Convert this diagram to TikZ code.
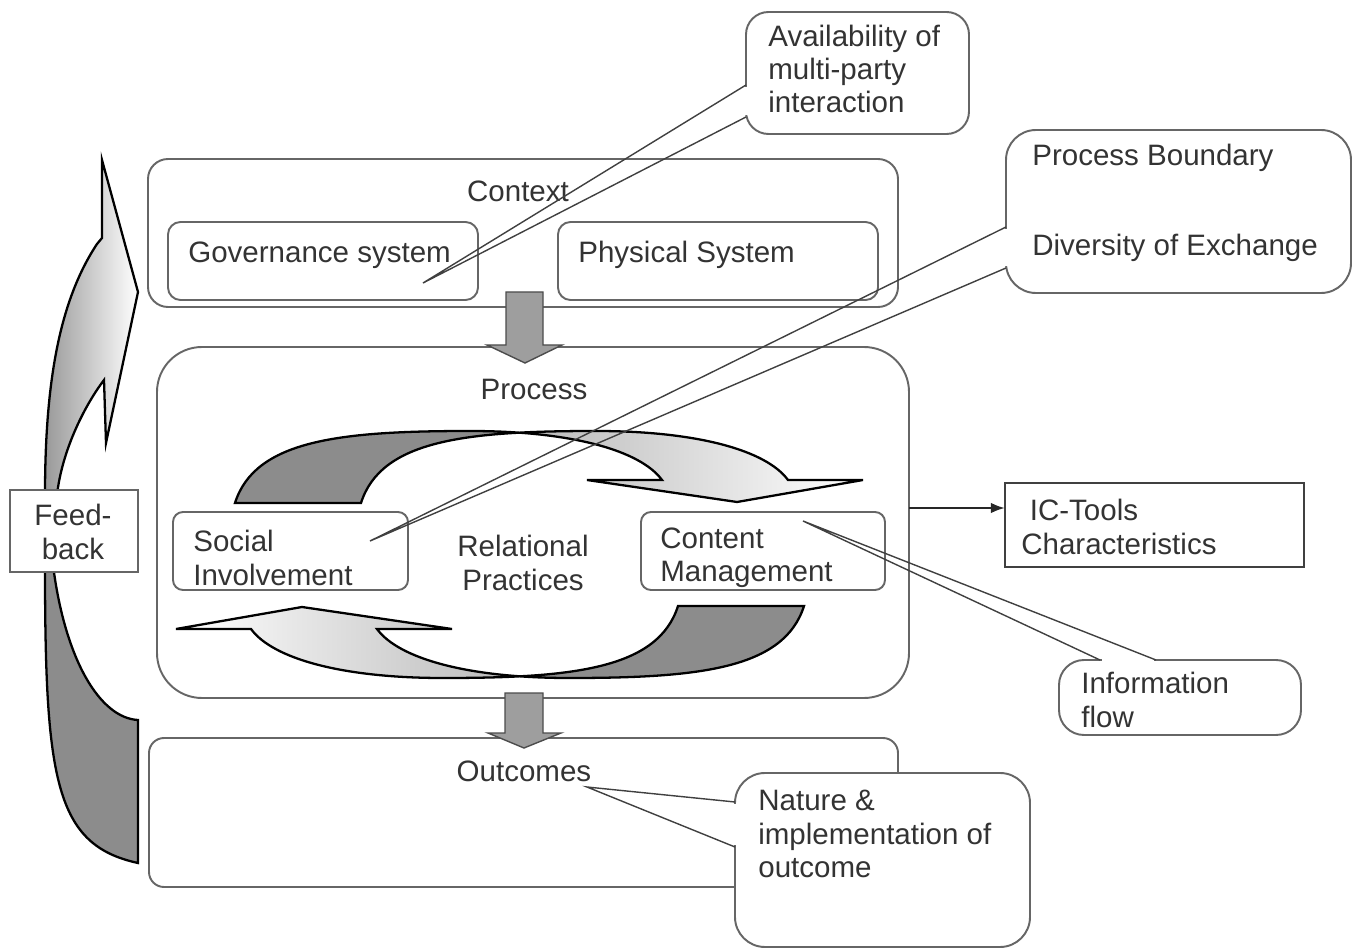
\documentclass[tikz,border=0pt]{standalone}
\usepackage{fontspec}
\setmainfont{Liberation Sans}
\usetikzlibrary{arrows.meta}

\tikzset{
  box/.style={draw=black!60, line width=1.1pt},
  txt/.style={text=black!80, font=\fontsize{16.8}{19}\selectfont, inner sep=0pt, align=left},
  bigarrow/.style={fill=black!38, draw=black!70, line width=0.8pt},
  ribbon/.style={draw=black, line width=1.3pt},
  callbody/.style={draw=black!60, fill=white, line width=1.1pt},
  pointer/.style={draw=black!75, line width=0.8pt},
}

% one half of the cycle: twisted ribbon with the head at the right
\def\ribbonpath{(235,503) .. controls (255,440) and (340,431) .. (470,431)
  .. controls (570,431) and (640,450) .. (662,480) -- (587,480) -- (737,502)
  -- (863,480) -- (788,480) .. controls (766,450) and (696,431) .. (596,431)
  .. controls (466,431) and (381,440) .. (361,503) -- cycle}
\newcommand{\cyclearrow}[2]{%
  \begin{scope} \clip (0,0) rectangle (522,949); \fill[black!45] \ribbonpath; \end{scope}
  \begin{scope} \clip (522,0) rectangle (1353,949); \shade[left color=#1, right color=#2] \ribbonpath; \end{scope}
  \draw[ribbon] \ribbonpath;}

\begin{document}
\begin{tikzpicture}[x=0.02cm, y=-0.02cm]
  \useasboundingbox (0,0) rectangle (1353,949);

  % feedback arrow
  \shadedraw[ribbon, left color=black!40, right color=white] (102,160) -- (102,238) -- (97,244)
    .. controls (60,300) and (45,380) .. (45,495) -- (57,495)
    .. controls (62,450) and (85,405) .. (104,380) -- (106,443) -- (138,292) -- cycle;
  \filldraw[ribbon, fill=black!45] (45,565) .. controls (45,780) and (55,845) .. (138,863)
    -- (138,720) .. controls (100,718) and (65,660) .. (53,565) -- cycle;
  \draw[box, fill=white] (10,490) rectangle (138,572);
  \node[txt, align=center] (feedback) at (73,532) {Feed-\\back};

  % context
  \draw[box, rounded corners=0.4cm] (148,159) rectangle (898,307);
  \node[txt] (context) at (518,191) {Context};
  \draw[box, rounded corners=0.25cm] (168,222) rectangle (478,300);
  \node[txt, anchor=west] (governance) at (188,255) {Governance system};
  \draw[box, rounded corners=0.25cm] (558,222) rectangle (878,300);
  \node[txt, anchor=west] (physical) at (578,255) {Physical System};

  % process
  \draw[box, rounded corners=0.9cm] (157,347) rectangle (909,698);
  \node[txt] (process) at (534,389) {Process};
  \draw[box, rounded corners=0.2cm] (173,512) rectangle (408,590);
  \node[txt, anchor=west] (social) at (193,558) {Social\\Involvement};
  \draw[box, rounded corners=0.2cm] (641,512) rectangle (885,590);
  \node[txt, anchor=west] (content) at (660,558) {Content\\Management};
  \node[txt, align=center] (relational) at (523,563) {Relational\\Practices};

  \cyclearrow{black!50}{white}
  \begin{scope}[rotate around={180:(519.5,554.5)}]
    \cyclearrow{white}{black!50}
  \end{scope}

  % outcomes
  \draw[box, rounded corners=0.3cm] (149,738) rectangle (898,887);
  \node[txt] (outcomes) at (524,771) {Outcomes};

  % down arrows
  \filldraw[bigarrow] (506,292) -- (543,292) -- (543,345) -- (562,345) -- (525,363)
    -- (487,345) -- (506,345) -- cycle;
  \filldraw[bigarrow] (505,693) -- (543,693) -- (543,733) -- (561,733) -- (524,748)
    -- (488,733) -- (505,733) -- cycle;

  % IC tools
  \draw[box, draw=black!75, line width=1.4pt] (1005,483) rectangle (1304,567);
  \node[txt, anchor=west] (ictools) at (1021,527) {\hspace*{0.17cm}IC-Tools\\Characteristics};
  \coordinate (procout) at (909,508);
  \coordinate (icin) at (1005,508);
  \draw[-{Latex[length=8pt,width=6pt]}, line width=1.4pt, black!85] (procout) -- (icin);

  % callouts
  \draw[callbody, rounded corners=0.45cm] (746,12) rectangle (969,134);
  \fill[white] (743,87) rectangle (749,115);
  \node[txt, anchor=west] (availability) at (768,69) {Availability of\\multi-party\\interaction};
  \coordinate (a1) at (746,85);
  \coordinate (a2) at (746,117);
  \coordinate (tipA) at (423,283);
  \draw[pointer] (a1) -- (tipA) -- (a2);

  \draw[callbody, rounded corners=0.6cm] (1006,130) rectangle (1351,293);
  \fill[white] (1003,229) rectangle (1009,266);
  \node[txt, anchor=west] (boundary) at (1032,158) {Process Boundary};
  \node[txt, anchor=west] (diversity) at (1032,248) {Diversity of Exchange};
  \coordinate (b1) at (1006,227);
  \coordinate (b2) at (1006,268);
  \coordinate (tipB) at (370,541);
  \draw[pointer] (b1) -- (tipB) -- (b2);

  \draw[callbody, rounded corners=0.5cm] (1059,660) rectangle (1301,735);
  \fill[white] (1102,657) rectangle (1154,663);
  \node[txt, anchor=west] (infoflow) at (1081,700) {Information\\flow};
  \coordinate (c1) at (1100,660);
  \coordinate (c2) at (1156,660);
  \coordinate (tipC) at (803,521);
  \draw[pointer] (c1) -- (tipC) -- (c2);

  \draw[callbody, rounded corners=0.6cm] (735,773) rectangle (1030,947);
  \fill[white] (732,804) rectangle (738,845);
  \node[txt, anchor=west] (nature) at (758,834) {Nature \&\\implementation of\\outcome};
  \coordinate (d1) at (735,802);
  \coordinate (d2) at (735,847);
  \coordinate (tipD) at (587,787);
  \draw[pointer] (d1) -- (tipD) -- (d2);
\end{tikzpicture}
\end{document}
